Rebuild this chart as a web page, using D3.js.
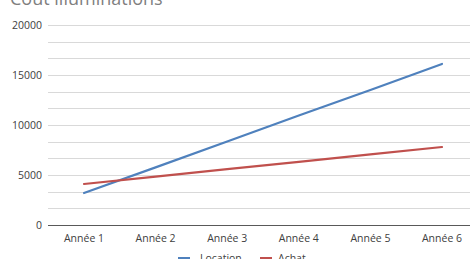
<!DOCTYPE html>
<html>
<head>
<meta charset="utf-8">
<script src="https://cdn.jsdelivr.net/npm/d3@7"></script>
<style>
  body { margin: 0; background: #fff; overflow: hidden; }
  svg { display: block; font-family: "Open Sans", "Noto Sans", sans-serif; }
</style>
</head>
<body>
<div id="chart"></div>
<script>
const categories = ['Année 1', 'Année 2', 'Année 3', 'Année 4', 'Année 5', 'Année 6'];
const location_vals = [3200, 5760, 8350, 10950, 13500, 16100];
const achat_vals = [4100, 4840, 5580, 6320, 7060, 7800];
const yTicks = [0, 5000, 10000, 15000, 20000];
const seriesNames = ['Location', 'Achat'];

renderChart();

function renderChart() {
	let width = 470, height = 259;
	let svg = d3.select('#chart').append('svg')
		.attr('width', width)
		.attr('height', height);

	//plot area, right side runs off the picture
	let x = d3.scalePoint().domain(categories).range([84, 442]);
	let y = d3.scaleLinear().domain([0, 20000]).range([225, 25]);

	//gridlines, three per label step
	let grid = d3.range(0, 20001, 5000 / 3);
	svg.append('g').selectAll('line')
		.data(grid)
		.join('line')
		.attr('x1', 48).attr('x2', width)
		.attr('y1', d => Math.round(y(d)) + 0.5)
		.attr('y2', d => Math.round(y(d)) + 0.5)
		.attr('stroke', '#d9d9d9')
		.attr('stroke-width', 1);

	//x axis line
	svg.append('line')
		.attr('x1', 48).attr('x2', width)
		.attr('y1', y(0) + 0.5).attr('y2', y(0) + 0.5)
		.attr('stroke', '#595959')
		.attr('stroke-width', 1);

	//y labels
	svg.append('g').selectAll('text')
		.data(yTicks)
		.join('text')
		.attr('x', 42)
		.attr('y', d => y(d) + 4)
		.attr('text-anchor', 'end')
		.attr('font-size', 10.5)
		.attr('fill', '#404040')
		.text(d => d);

	//x labels
	svg.append('g').selectAll('text')
		.data(categories)
		.join('text')
		.attr('x', d => x(d))
		.attr('y', 242)
		.attr('text-anchor', 'middle')
		.attr('font-size', 10.5)
		.attr('fill', '#404040')
		.text(d => d);

	let line = d3.line()
		.x((d, i) => x(categories[i]))
		.y(d => y(d));

	let colors = ['#4f81bd', '#c0504d'];
	[location_vals, achat_vals].forEach(function(vals, i) {
		svg.append('path')
			.attr('d', line(vals))
			.attr('fill', 'none')
			.attr('stroke', colors[i])
			.attr('stroke-width', 2.2)
			.attr('stroke-linecap', 'round');
	});

	//legend, cut at the bottom
	let legendX = [178, 260];
	seriesNames.forEach(function(name, i) {
		svg.append('rect')
			.attr('x', legendX[i]).attr('y', 257)
			.attr('width', 12).attr('height', 3)
			.attr('fill', colors[i]);
		svg.append('text')
			.attr('x', legendX[i] + (i == 0 ? 22 : 18))
			.attr('y', 262)
			.attr('font-size', 10.5)
			.attr('fill', '#404040')
			.text(name);
	});

	//title, mostly above the picture
	svg.append('text')
		.attr('x', 10)
		.attr('y', 5)
		.attr('font-size', 18)
		.attr('fill', '#7f7f7f')
		.text('Coût illuminations');
}
</script>
</body>
</html>
